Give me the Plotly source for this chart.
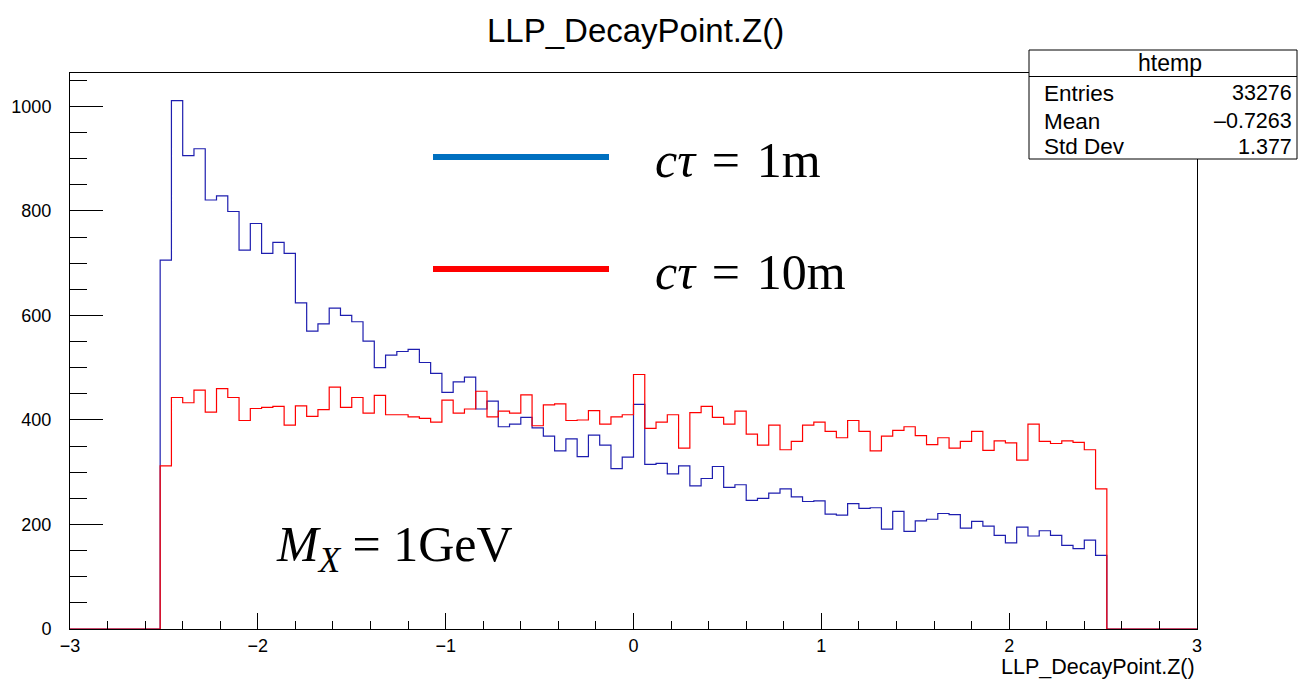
import numpy as np
import plotly.graph_objects as go

# Histogram definition: 100 bins from -3 to 3; non-zero bins start at bin 8 (x=-2.52)
n_bins = 100
x_min, x_max = -3.0, 3.0
first_filled_bin = 8

# c*tau = 1m (blue) counts for the 84 filled bins
blue_counts = [706, 1011, 906, 919, 821, 829, 799, 725, 776, 719, 740, 719, 624, 570, 584, 614,
               600, 588, 551, 500, 524, 531, 535, 510, 489, 453, 473, 482, 421, 436, 387, 392,
               405, 385, 369, 341, 364, 330, 371, 352, 307, 329, 430, 315, 317, 297, 312, 274,
               288, 311, 271, 276, 246, 250, 260, 268, 253, 244, 245, 220, 218, 240, 231, 232,
               191, 225, 187, 207, 210, 221, 219, 193, 206, 197, 179, 165, 195, 178, 188, 179,
               160, 154, 170, 141]

# c*tau = 10m (red) counts for the 84 filled bins
red_counts = [312, 443, 433, 457, 415, 460, 443, 399, 422, 424, 426, 390, 427, 407, 420, 463,
              424, 443, 413, 447, 410, 410, 406, 403, 396, 438, 413, 421, 455, 406, 417, 413,
              448, 389, 429, 431, 399, 400, 418, 392, 406, 410, 487, 384, 396, 410, 346, 414,
              426, 405, 392, 417, 373, 352, 390, 343, 359, 390, 396, 378, 366, 399, 378, 341,
              369, 380, 387, 370, 353, 366, 346, 359, 378, 342, 360, 356, 323, 392, 359, 355,
              360, 357, 343, 268]

title_text = "LLP_DecayPoint.Z()"
x_title = "LLP_DecayPoint.Z()"
stats_name = "htemp"
stats_rows = [("Entries", "33276"), ("Mean", "\u20130.7263"), ("Std Dev", "1.377")]
legend_labels = ["<i>c\u03c4</i>\u2004=\u20041m", "<i>c\u03c4</i>\u2004=\u200410m"]
mass_label = "<i>M</i><sub><i>X</i></sub> = 1GeV"

edges = np.linspace(x_min, x_max, n_bins + 1)


def full_hist(counts):
    full = np.zeros(n_bins)
    full[first_filled_bin:first_filled_bin + len(counts)] = counts
    xs = list(edges[:-1]) + [edges[-1]]
    ys = list(full) + [full[-1]]
    return xs, ys


fig = go.Figure()
bx, by = full_hist(blue_counts)
rx, ry = full_hist(red_counts)
fig.add_trace(go.Scatter(x=bx, y=by, mode="lines", line=dict(shape="hv", color="rgb(30,30,175)", width=1.2),
                         showlegend=False, hoverinfo="skip"))
fig.add_trace(go.Scatter(x=rx, y=ry, mode="lines", line=dict(shape="hv", color="rgb(255,0,0)", width=1.2),
                         showlegend=False, hoverinfo="skip"))

W, H = 1298, 679
L, R, T, B = 70, 1197, 73, 629
pw, ph = R - L, B - T


def px(xp):
    return (xp - L) / pw


def py(yp):
    return (B - yp) / ph


font_family = "Liberation Sans, Arial, Helvetica, sans-serif"
serif = "Liberation Serif, DejaVu Serif, serif"

fig.update_layout(
    width=W, height=H,
    margin=dict(l=L, r=W - R, t=T, b=H - B, pad=0),
    plot_bgcolor="white", paper_bgcolor="white",
    font=dict(family=font_family, color="black", size=18),
    xaxis=dict(range=[x_min, x_max], showgrid=False, zeroline=False, showline=True, mirror=True,
               linecolor="black", linewidth=1, ticks="inside", ticklen=16, tickwidth=1, tickcolor="black",
               dtick=1, tick0=0, tickfont=dict(size=18),
               minor=dict(ticks="inside", ticklen=8, dtick=0.2, tick0=0, tickcolor="black", showgrid=False)),
    yaxis=dict(range=[0, 1064], showgrid=False, zeroline=False, showline=True, mirror=True,
               linecolor="black", linewidth=1, ticks="inside", ticklen=33, tickwidth=1, tickcolor="black",
               dtick=200, tick0=0, tickfont=dict(size=18), ticklabelstandoff=14,
               minor=dict(ticks="inside", ticklen=17, dtick=50, tick0=0, tickcolor="black", showgrid=False)),
)

shapes = []
# legend lines
shapes.append(dict(type="line", xref="paper", yref="paper", x0=px(433), x1=px(609), y0=py(157), y1=py(157),
                   line=dict(color="rgb(0,112,192)", width=6)))
shapes.append(dict(type="line", xref="paper", yref="paper", x0=px(433), x1=px(609), y0=py(269), y1=py(269),
                   line=dict(color="rgb(255,0,0)", width=6)))
# stats box
shapes.append(dict(type="rect", xref="paper", yref="paper", x0=px(1029), x1=px(1297), y0=py(159), y1=py(50),
                   line=dict(color="black", width=1), fillcolor="white", layer="above"))
shapes.append(dict(type="line", xref="paper", yref="paper", x0=px(1029), x1=px(1297), y0=py(76.5), y1=py(76.5),
                   line=dict(color="black", width=1), layer="above"))
fig.update_layout(shapes=shapes)

ann = []
ann.append(dict(text=title_text, xref="paper", yref="paper", x=px(635), y=py(30), xanchor="center",
                yanchor="middle", showarrow=False, font=dict(size=33)))
ann.append(dict(text=x_title, xref="paper", yref="paper", x=1.0, y=py(667), xanchor="right",
                yanchor="middle", showarrow=False, font=dict(size=21.5)))
ann.append(dict(text=stats_name, xref="paper", yref="paper", x=px(1170), y=py(63), xanchor="center",
                yanchor="middle", showarrow=False, font=dict(size=23)))
row_y = [93, 121, 147]
for (lab, val), yy in zip(stats_rows, row_y):
    ann.append(dict(text=lab, xref="paper", yref="paper", x=px(1042), y=py(yy), xanchor="left",
                    yanchor="middle", showarrow=False, font=dict(size=22.5)))
    ann.append(dict(text=val, xref="paper", yref="paper", x=px(1294), y=py(yy), xanchor="right",
                    yanchor="middle", showarrow=False, font=dict(size=21.5)))
ann.append(dict(text=legend_labels[0], xref="paper", yref="paper", x=px(653), y=py(160), xanchor="left",
                yanchor="middle", showarrow=False, font=dict(size=50, family=serif)))
ann.append(dict(text=legend_labels[1], xref="paper", yref="paper", x=px(653), y=py(272), xanchor="left",
                yanchor="middle", showarrow=False, font=dict(size=50, family=serif)))
ann.append(dict(text=mass_label, xref="paper", yref="paper", x=px(274), y=py(548), xanchor="left",
                yanchor="middle", showarrow=False, font=dict(size=50, family=serif)))
fig.update_layout(annotations=ann)

fig.write_html("out.html")
